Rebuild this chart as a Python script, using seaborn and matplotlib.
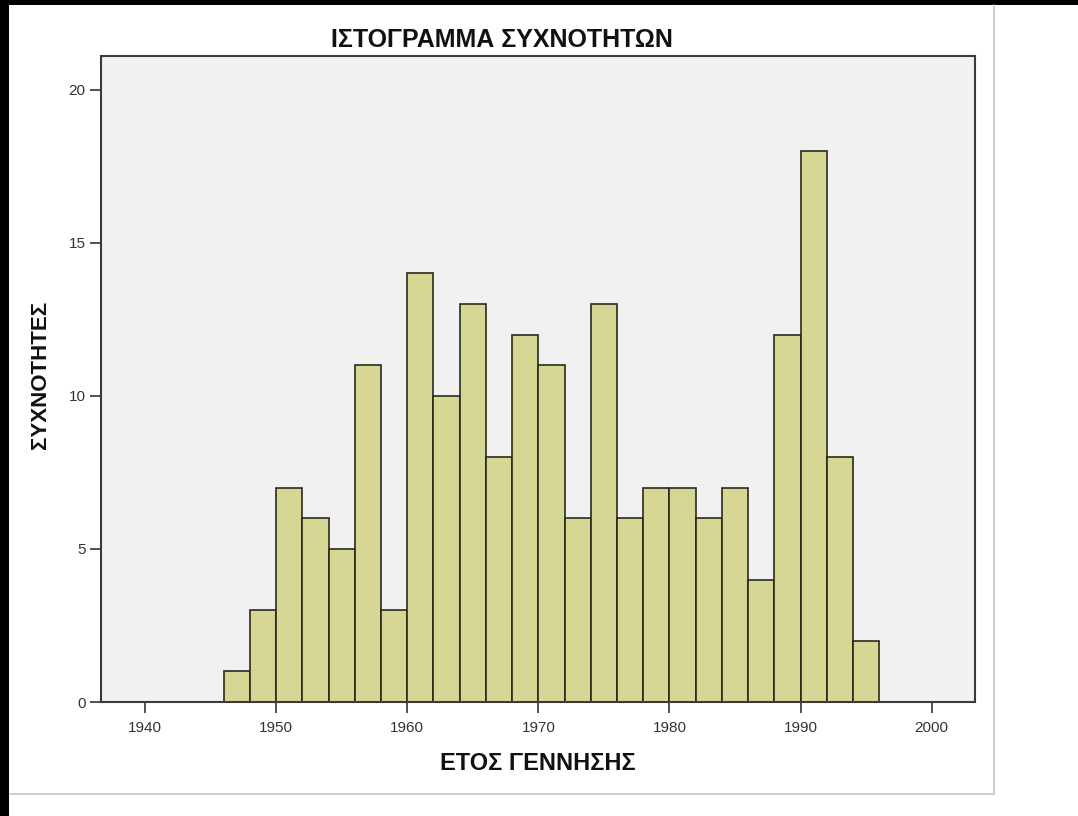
import matplotlib
matplotlib.use("Agg")
import matplotlib.pyplot as plt
import seaborn as sns
import numpy as np
from matplotlib.patches import Rectangle
from matplotlib.lines import Line2D

# ---- data ----
bin_left_years = [1946, 1948, 1950, 1952, 1954, 1956, 1958, 1960, 1962, 1964,
                  1966, 1968, 1970, 1972, 1974, 1976, 1978, 1980, 1982, 1984,
                  1986, 1988, 1990, 1992, 1994]
bin_edges = bin_left_years + [1996]
frequencies = [1, 3, 7, 6, 5, 11, 3, 14, 10, 13, 8, 12, 11, 6, 13, 6, 7, 7, 6, 7,
               4, 12, 18, 8, 2]
x_ticks = [1940, 1950, 1960, 1970, 1980, 1990, 2000]
y_ticks = [0, 5, 10, 15, 20]

title_text = "ΙΣΤΟΓΡΑΜΜΑ ΣΥΧΝΟΤΗΤΩΝ"
x_label = "ΕΤΟΣ ΓΕΝΝΗΣΗΣ"
y_label = "ΣΥΧΝΟΤΗΤΕΣ"

sns.set_theme(style="white")
plt.rcParams['font.family'] = ['Liberation Sans', 'DejaVu Sans']

W, H = 1078, 816
fig = plt.figure(figsize=(W / 100, H / 100), dpi=100)
fig.patch.set_facecolor("white")

ax = fig.add_axes([101 / W, 1 - 702 / H, (975 - 101) / W, (702 - 56) / H])
ax.set_facecolor("#f1f1f2")

centers = [b + 1 for b in bin_left_years]
sns.histplot(x=centers, weights=frequencies, bins=bin_edges, ax=ax,
             color="#d6d794", alpha=1.0, edgecolor="#2a2a1a", linewidth=1.2)

ax.set_xlim(1936.65, 2003.3)
ax.set_ylim(0, 21.1)
ax.set_xticks(x_ticks)
ax.set_yticks(y_ticks)
ax.tick_params(axis="both", direction="out", length=8, width=1.2,
               colors="#333333", labelsize=11, pad=3, bottom=True, left=True)
ax.tick_params(axis="x", pad=6)
for s in ax.spines.values():
    s.set_visible(True)
    s.set_color("#3a3a3a")
    s.set_linewidth(1.5)

ax.set_xlabel(x_label, fontsize=17, fontweight="bold", color="#111111", labelpad=12)
ax.set_ylabel(y_label, fontsize=16, fontweight="bold", color="#111111", labelpad=0)
ax.yaxis.set_label_coords(-(101 - 51) / (975 - 101), (702 - 375) / (702 - 56))

fig.text(502 / W, 1 - 40 / H, title_text, ha="center", va="center",
         fontsize=18, fontweight="bold", color="#111111",
         family=['Liberation Sans Narrow', 'Liberation Sans', 'DejaVu Sans'])

# outer frame: light gray panel border and black window edges
fig.add_artist(Line2D([10 / W, 994 / W], [1 - 794 / H, 1 - 794 / H],
                      transform=fig.transFigure, color="#c4c4c4", lw=1.2))
fig.add_artist(Line2D([994 / W, 994 / W], [1 - 794 / H, 1 - 5 / H],
                      transform=fig.transFigure, color="#c4c4c4", lw=1.2))
fig.add_artist(Rectangle((0, 0), 9 / W, 1, transform=fig.transFigure,
                         facecolor="black", edgecolor="none"))
fig.add_artist(Rectangle((0, 1 - 5 / H), 1, 5 / H, transform=fig.transFigure,
                         facecolor="black", edgecolor="none"))

fig.savefig("out.png", dpi=100, facecolor="white")
